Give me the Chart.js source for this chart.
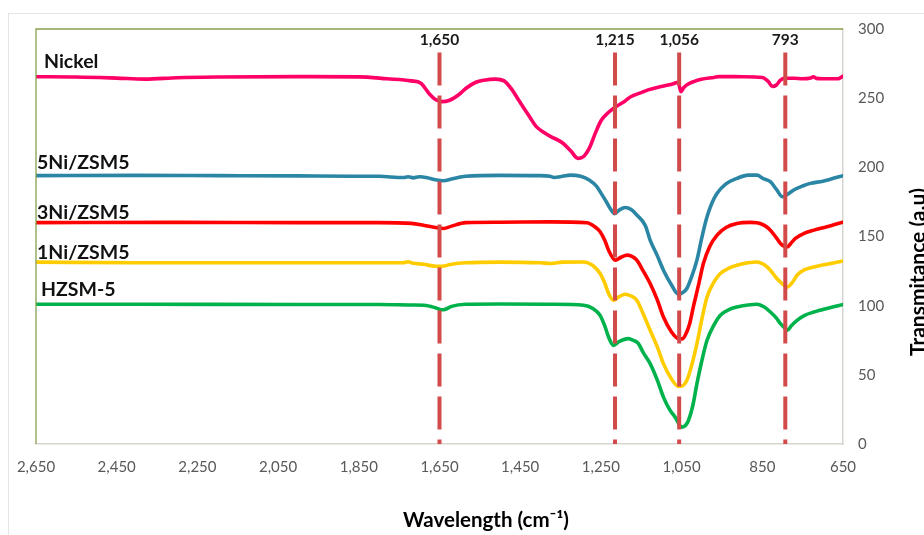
<!DOCTYPE html>
<html>
<head>
<meta charset="utf-8">
<script src="https://cdn.jsdelivr.net/npm/chart.js@4.4.1/dist/chart.umd.min.js"></script>
<style>
  html, body { margin: 0; padding: 0; background: #ffffff; }
  #wrap { position: relative; width: 924px; height: 535px; }
</style>
</head>
<body>
<div id="wrap"><canvas id="c" width="924" height="535"></canvas></div>
<script>
// ---------- data ----------
const nickelX = [2650,2550,2450,2380,2300,2200,2000,1850,1780,1720,1696,1675,1660,1644,1625,1600,1585,1560,1540,1512,1490,1470,1454,1430,1410,1390,1373,1355,1344,1325,1307,1292,1279,1262,1249,1230,1212,1190,1176,1150,1133,1100,1070,1058,1052,1045,1037,1020,1001,970,957,900,850,835,825,815,805,795,770,752,730,723,716,700,663,650];
const nickelY = [265.5,265.3,264.5,263.8,264.8,265.3,265.6,265.4,264,262.5,260.8,253,249,247.5,248.5,253,257,261.5,263,263.8,262.5,256,248.7,238,229.4,225,222,219.5,217.4,212,206.5,208,213.7,226,234,240,243.9,248,251,254,256,258.5,260.5,261.5,254.7,257.5,259.6,262,263.7,265,265.6,265.5,265,262,258.4,259.5,263,264.4,264.4,264,264.6,265.5,264.3,264,264,266];

const ni5X = [2650,2400,2200,2000,1800,1740,1728,1715,1700,1680,1660,1640,1620,1585,1500,1400,1376,1366,1345,1326,1300,1279,1260,1249,1239,1227,1216,1205,1190,1175,1161,1140,1128,1110,1095,1075,1058,1047,1037,1025,1012,1000,987,975,962,940,913,885,863,849,830,815,800,790,772,750,731,700,680,650];
const ni5Y = [194,194.2,194,193.8,193.5,192.6,193.2,192.4,193.2,192.5,191,190.3,191.5,193.5,194.2,194,193.5,192.7,193.5,194.4,193.5,190.8,186,181,176.3,170.3,166.5,169,171,169.5,165.5,158,147.4,136,125.6,115,108.3,109.5,112.4,121,132.9,149,164.2,174,181.2,188,192,194.4,194.4,192,189.6,184,178.7,180,183.6,186.5,188.4,190,191.5,194];

const ni3X = [2650,2300,2000,1800,1720,1690,1660,1640,1620,1585,1500,1376,1285,1265,1252,1240,1231,1214,1200,1185,1172,1161,1145,1128,1110,1095,1075,1058,1048,1041,1030,1021,1008,996,980,962,940,913,880,863,845,830,815,805,795,788,778,768,745,722,690,648];
const ni3Y = [160,160.2,160,160,159.5,158.2,156.5,155.8,157.5,160,160.3,160.6,159.9,157,153.4,147,140.1,132.9,135,136.5,135.5,132.9,125,116,104,91.8,81,76.2,76,78.6,87,99,115,130.5,143,151,156.5,159.4,160.2,159.9,158,154.6,149,145,142.8,142.5,145.5,148.6,152.5,154.6,157,160.6];

const ni1X = [2650,2400,2000,1800,1740,1728,1715,1690,1660,1644,1620,1585,1500,1400,1373,1345,1293,1270,1252,1240,1231,1219,1205,1190,1175,1161,1145,1128,1110,1095,1075,1058,1048,1037,1025,1012,1000,987,970,954,930,913,863,845,830,815,801,788,775,764,745,722,690,648];
const ni1Y = [131.5,131,131,131,131,131.8,130.6,130,128.5,128.5,130,131,131.5,131,130.5,131.5,131.6,129,123.2,116,108.8,103.9,106.5,108.3,107,103.9,94,82.2,70,58.1,47,41.6,42,46,57,72.6,90,106.3,117,123.2,127.5,129.3,131.6,129.5,125.6,120,116,113.5,117,122,126,128,130,132.4];

const hzX = [2650,2400,2000,1800,1720,1688,1660,1645,1637,1620,1585,1500,1376,1293,1270,1252,1240,1231,1219,1205,1182,1170,1157,1145,1128,1110,1095,1080,1066,1049,1040,1033,1022,1012,1000,987,970,954,930,913,863,845,830,815,805,795,788,778,764,745,722,690,648];
const hzY = [101,101,100.8,100.8,100.5,100.3,98.5,97,97.2,99.5,101,101.2,101,100.3,98,93,85,77.3,71.3,74,76.2,75,72.6,66,58.1,46,33.9,25,19.4,12.2,13.5,17,28,43.6,60,75,86,93,97.5,99,101,99,95.4,91,87,84,82.2,85.5,89.4,93,95.4,98,101];

const seriesNames = ["Nickel", "5Ni/ZSM5", "3Ni/ZSM5", "1Ni/ZSM5", "HZSM-5"];
const seriesColors = ["#FF0066", "#2A86A4", "#FF0000", "#FFCC00", "#00B24C"];
const labelAnchorY = [276, 203.5, 167.5, 138.5, 111.3];

const peakPositions = [1650, 1215, 1056, 793];
const peakLabels = ["1,650", "1,215", "1,056", "793"];
const peakLineTop = 283;
const peakLabelY = 292;

const xTicks = [2650, 2450, 2250, 2050, 1850, 1650, 1450, 1250, 1050, 850, 650];
const yTicks = [0, 50, 100, 150, 200, 250, 300];

// ---------- build datasets ----------
function pts(xs, ys) { return xs.map((x, i) => ({ x: x, y: ys[i] })); }
const seriesData = [pts(nickelX, nickelY), pts(ni5X, ni5Y), pts(ni3X, ni3Y), pts(ni1X, ni1Y), pts(hzX, hzY)];

const datasets = [];
peakPositions.forEach((p) => {
  datasets.push({
    data: [{ x: p, y: peakLineTop }, { x: p, y: 0 }],
    borderColor: "#D24A4A",
    borderWidth: 4,
    borderDash: [33, 10],
    borderCapStyle: "butt",
    pointRadius: 0,
    tension: 0,
    order: -1
  });
});
seriesData.forEach((d, i) => {
  datasets.push({
    label: seriesNames[i],
    data: d,
    borderColor: seriesColors[i],
    borderWidth: 3.6,
    pointRadius: 0,
    cubicInterpolationMode: "monotone",
    borderJoinStyle: "round",
    borderCapStyle: "round",
    order: i
  });
});

const FONT = "Lato, 'Open Sans', sans-serif";

const decor = {
  id: "decor",
  beforeDraw(chart) {
    const ctx = chart.ctx;
    ctx.save();
    ctx.fillStyle = "#ffffff";
    ctx.fillRect(0, 0, chart.width, chart.height);
    ctx.strokeStyle = "#E4E4E4";
    ctx.lineWidth = 1;
    ctx.strokeRect(8.5, 13.5, 1200, 1200);
    ctx.restore();
  },
  afterDatasetsDraw(chart) {
    const ctx = chart.ctx;
    const xs = chart.scales.x, ys = chart.scales.y;
    const a = chart.chartArea;
    ctx.save();
    // top and left plot border (olive)
    ctx.strokeStyle = "#86A04E";
    ctx.lineWidth = 1.3;
    ctx.beginPath();
    ctx.moveTo(a.left, a.bottom);
    ctx.lineTo(a.left, a.top);
    ctx.lineTo(a.right, a.top);
    ctx.stroke();
    // peak labels
    ctx.fillStyle = "#1a1a1a";
    ctx.font = "bold 15.5px " + FONT;
    ctx.textAlign = "center";
    ctx.textBaseline = "middle";
    peakPositions.forEach((p, i) => {
      ctx.fillText(peakLabels[i], xs.getPixelForValue(p), ys.getPixelForValue(peakLabelY));
    });
    // series labels
    ctx.font = "bold 19.5px " + FONT;
    ctx.fillStyle = "#111111";
    ctx.textAlign = "left";
    const lx = [44, 37, 37, 37, 41];
    seriesNames.forEach((n, i) => {
      ctx.fillText(n, lx[i], ys.getPixelForValue(labelAnchorY[i]));
    });
    // axis titles
    ctx.fillStyle = "#000000";
    ctx.font = "bold 20.5px " + FONT;
    ctx.textAlign = "center";
    ctx.fillText("Wavelength (cm\u207B\u00B9)", 486, 520);
    ctx.translate(918, 272);
    ctx.rotate(-Math.PI / 2);
    ctx.font = "bold 21px " + FONT;
    ctx.fillText("Transmitance (a.u)", 0, 0);
    ctx.restore();
  }
};

new Chart(document.getElementById("c"), {
  type: "line",
  data: { datasets: datasets },
  options: {
    responsive: false,
    animation: false,
    locale: "en-US",
    devicePixelRatio: 1,
    layout: { padding: { left: 36, top: 29, right: 0, bottom: 0 } },
    plugins: { legend: { display: false }, tooltip: { enabled: false } },
    scales: {
      x: {
        type: "linear",
        reverse: true,
        min: 650,
        max: 2650,
        afterFit(s) { s.height = 91; },
        afterBuildTicks(s) { s.ticks = xTicks.map(v => ({ value: v })); },
        grid: { display: false, drawTicks: false },
        border: { display: true, color: "#D6D6CE", width: 1.5 },
        ticks: {
          padding: 14,
          color: "#595959",
          font: { family: FONT, size: 15 },
          maxRotation: 0,
          autoSkip: false,
          callback: (v) => Number(v).toLocaleString("en-US")
        }
      },
      y: {
        type: "linear",
        position: "right",
        min: 0,
        max: 300,
        afterFit(s) { s.width = 81; },
        afterBuildTicks(s) { s.ticks = yTicks.map(v => ({ value: v })); },
        grid: { display: false, drawTicks: false },
        border: { display: true, color: "#D6D6CE", width: 1.5 },
        ticks: {
          padding: 15,
          color: "#595959",
          font: { family: FONT, size: 15 },
          autoSkip: false
        }
      }
    }
  },
  plugins: [decor]
});
</script>
</body>
</html>
